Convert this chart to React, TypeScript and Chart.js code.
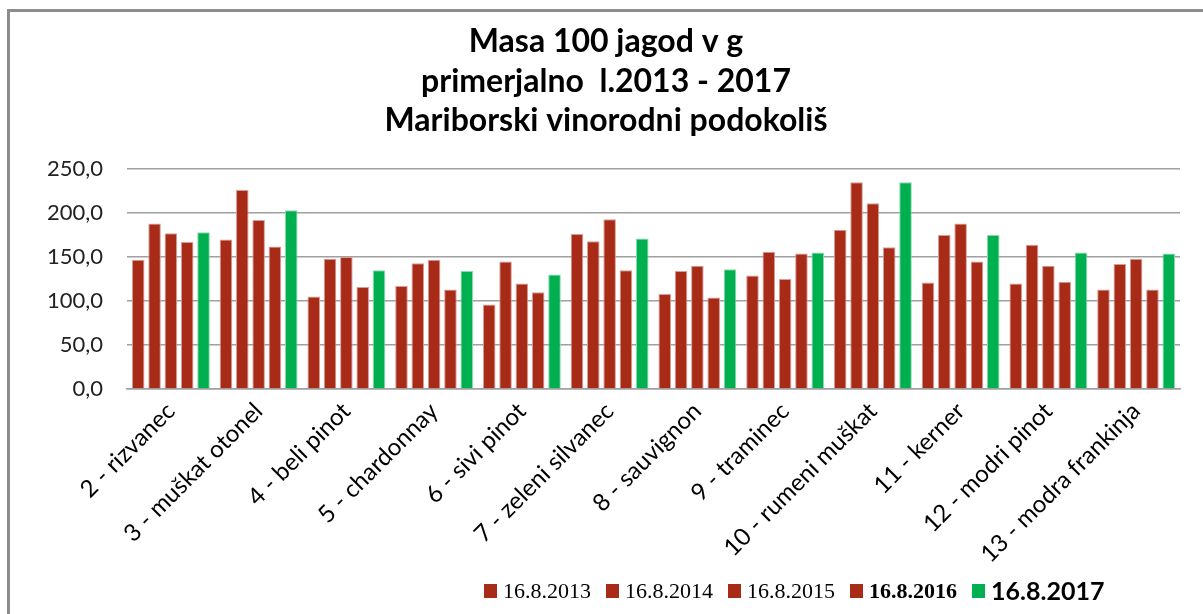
import React, { useEffect, useRef } from "react";
import { Chart, registerables } from "chart.js";

Chart.register(...registerables);

const titleLines = ["Masa 100 jagod v g", "primerjalno  l.2013 - 2017", "Mariborski vinorodni podokoliš"];

const categories = [
  "2 - rizvanec",
  "3 - muškat otonel",
  "4 - beli pinot",
  "5 - chardonnay",
  "6 - sivi pinot",
  "7 - zeleni silvanec",
  "8 - sauvignon",
  "9 - traminec",
  "10 - rumeni muškat",
  "11 - kerner",
  "12 - modri pinot",
  "13 - modra frankinja",
];

const seriesNames = ["16.8.2013", "16.8.2014", "16.8.2015", "16.8.2016", "16.8.2017"];

const values2013 = [147, 170, 105, 117, 96, 176, 108, 129, 181, 121, 120, 113];
const values2014 = [188, 226, 148, 143, 145, 168, 134, 156, 235, 175, 164, 142];
const values2015 = [177, 192, 150, 147, 120, 193, 140, 125, 211, 188, 140, 148];
const values2016 = [167, 162, 116, 113, 110, 135, 104, 154, 161, 145, 122, 113];
const values2017 = [178, 203, 135, 134, 130, 171, 136, 155, 235, 175, 155, 154];

const yTicks = [0, 50, 100, 150, 200, 250];

const RED = "#a82b18";
const RED_EDGE = "#d99d94";
const GREEN = "#00b050";
const GREEN_EDGE = "#86dcab";

export default function App() {
  const ref = useRef<HTMLCanvasElement>(null);

  useEffect(() => {
    if (!ref.current) return;
    const series = [values2013, values2014, values2015, values2016, values2017];

    const legendFonts = [
      "22px 'Liberation Serif'",
      "22px 'Liberation Serif'",
      "22px 'Liberation Serif'",
      "bold 22px 'Liberation Serif'",
      "bold 25px Lato",
    ];

    const customTitle = {
      id: "customTitle",
      afterDraw(chart: any) {
        const ctx = chart.ctx as CanvasRenderingContext2D;
        ctx.save();
        ctx.font = "bold 32px Lato";
        ctx.fillStyle = "#000";
        ctx.textAlign = "center";
        ctx.textBaseline = "middle";
        titleLines.forEach((line, i) => {
          ctx.fillText(line, 606, 42 + i * 39.5);
        });
        ctx.restore();
      },
    };

    const customLegend = {
      id: "customLegend",
      afterDraw(chart: any) {
        const ctx = chart.ctx as CanvasRenderingContext2D;
        const cy = 591;
        let x = 484;
        ctx.save();
        chart.data.datasets.forEach((ds: any, i: number) => {
          ctx.fillStyle = ds.backgroundColor;
          ctx.fillRect(x, cy - 7, 13, 14);
          x += 13 + 6;
          ctx.font = legendFonts[i];
          ctx.fillStyle = "#000";
          ctx.textAlign = "left";
          ctx.textBaseline = "middle";
          ctx.fillText(ds.label, x, cy + 1);
          x += ctx.measureText(ds.label).width + 15;
        });
        ctx.restore();
      },
    };

    const chart = new Chart(ref.current, {
      type: "bar",
      data: {
        labels: categories,
        datasets: series.map((data, i) => ({
          label: seriesNames[i],
          data,
          backgroundColor: i === 4 ? GREEN : RED,
          borderColor: i === 4 ? GREEN_EDGE : RED_EDGE,
          borderWidth: 1,
          categoryPercentage: 0.93,
          barPercentage: 0.77,
        })),
      },
      options: {
        responsive: false,
        animation: false,
        devicePixelRatio: 1,
        layout: { padding: { left: 0, right: 23, top: 169, bottom: 0 } },
        plugins: {
          legend: { display: false },
          tooltip: { enabled: false },
          title: { display: false },
        },
        scales: {
          x: {
            grid: { display: false, drawTicks: false },
            border: { display: true, color: "#a0a0a0", width: 1.5 },
            ticks: {
              minRotation: 45,
              maxRotation: 45,
              autoSkip: false,
              padding: 8,
              color: "#000",
              font: { family: "Lato", size: 24 },
            },
            afterFit: (scale: any) => {
              scale.height = 225;
            },
          },
          y: {
            min: 0,
            max: 250,
            afterBuildTicks: (scale: any) => {
              scale.ticks = yTicks.map((v) => ({ value: v }));
            },
            grid: { color: "#a0a0a0", lineWidth: 1.5, drawTicks: false },
            border: { display: false },
            ticks: {
              padding: 24,
              color: "#222",
              font: { family: "Lato", size: 22 },
              callback: (v: any) => Number(v).toFixed(1).replace(".", ","),
            },
            afterFit: (scale: any) => {
              scale.width = 127;
            },
          },
        },
      },
      plugins: [customTitle, customLegend],
    });
    return () => chart.destroy();
  }, []);

  return (
    <div style={{ position: "fixed", left: 0, top: 0, width: 1203, height: 614, background: "#fff", overflow: "hidden" }}>
      <div
        style={{
          position: "absolute",
          left: 7,
          top: 9,
          width: 1400,
          height: 800,
          borderLeft: "3px solid #8c8c8c",
          borderTop: "3px solid #8c8c8c",
        }}
      />
      <canvas ref={ref} width={1203} height={614} style={{ position: "absolute", left: 0, top: 0, width: 1203, height: 614 }} />
    </div>
  );
}
